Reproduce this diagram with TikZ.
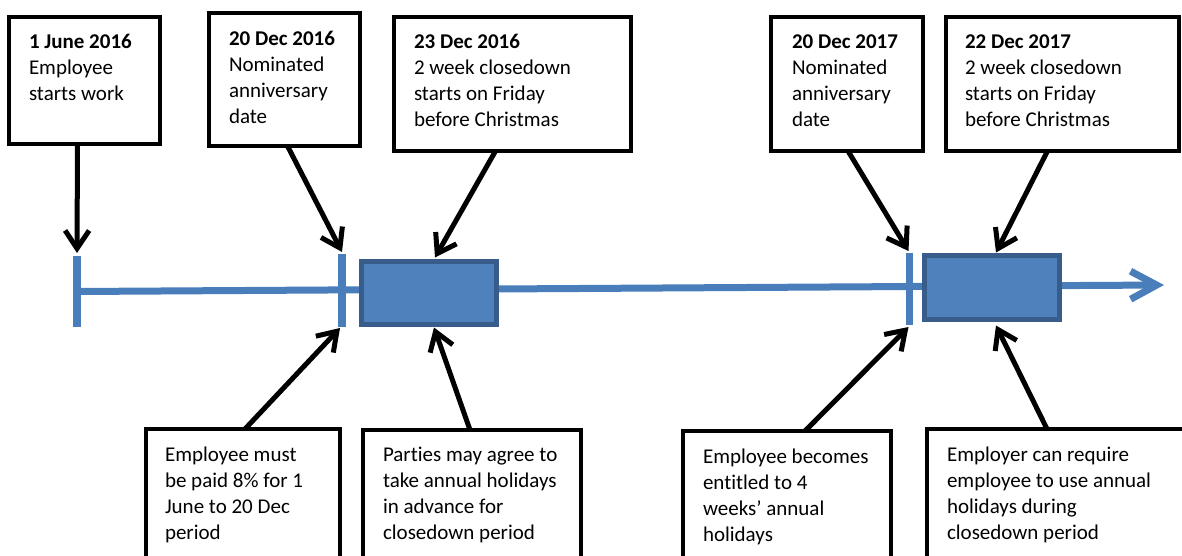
\documentclass[tikz,border=0pt]{standalone}
\usepackage{fontspec}
\setmainfont{Carlito}[Ligatures=NoCommon]
\usetikzlibrary{arrows.meta,calc}
\definecolor{tlblue}{HTML}{4A7EBB}
\definecolor{rfill}{HTML}{4F81BD}
\definecolor{rdraw}{HTML}{385D8A}
\begin{document}
\begin{tikzpicture}[x=1pt,y=-1pt,
  box/.style={draw=black,line width=4pt,anchor=north west,inner sep=0pt,outer sep=0pt},
  txt/.style={anchor=base west,inner sep=0pt,outer sep=0pt,font=\fontsize{21}{26}\selectfont},
  tickmark/.style={fill=tlblue,inner sep=0pt,outer sep=0pt,minimum width=8pt},
  period/.style={fill=rfill,draw=rdraw,line width=5pt,inner sep=0pt,outer sep=0pt,anchor=north west},
  pointer/.style={line width=5pt,-{Straight Barb[length=18pt,width=24pt]}},
  timeline/.style={tlblue,line width=7pt,-{Straight Barb[length=26pt,width=28pt]}}
]
\useasboundingbox (0,0) rectangle (1182,556);

% top boxes
\node[box,minimum width=151pt,minimum height=127pt] (b1) at (9,17) {};
\node[box,minimum width=151pt,minimum height=133pt] (b2) at (209,13) {};
\node[box,minimum width=237pt,minimum height=134pt] (b3) at (394,17) {};
\node[box,minimum width=152pt,minimum height=134pt] (b4) at (771,17) {};
\node[box,minimum width=233pt,minimum height=134pt] (b5) at (946,17) {};

% bottom boxes (cut off by the page)
\node[box,minimum width=194pt,minimum height=200pt] (b6) at (146,429) {};
\node[box,minimum width=218pt,minimum height=200pt] (b7) at (363,430) {};
\node[box,minimum width=208pt,minimum height=200pt] (b8) at (683,431) {};
\node[box,minimum width=300pt,minimum height=200pt] (b9) at (927,429) {};

% texts
\node[txt] (t1) at (29,49) {\parbox[t]{130pt}{\textbf{1 June 2016}\\Employee\\starts work}};
\node[txt] (t2) at (229,46) {\parbox[t]{130pt}{\textbf{20 Dec 2016}\\Nominated\\anniversary\\date}};
\node[txt] (t3) at (414,49) {\parbox[t]{210pt}{\textbf{23 Dec 2016}\\2 week closedown\\starts on Friday\\before Christmas}};
\node[txt] (t4) at (792,49) {\parbox[t]{130pt}{\textbf{20 Dec 2017}\\Nominated\\anniversary\\date}};
\node[txt] (t5) at (965,49) {\parbox[t]{210pt}{\textbf{22 Dec 2017}\\2 week closedown\\starts on Friday\\before Christmas}};
\node[txt] (t6) at (165,461) {\parbox[t]{170pt}{Employee must\\be paid 8\% for 1\\June to 20 Dec\\period}};
\node[txt] (t7) at (383,461) {\parbox[t]{200pt}{Parties may agree to\\take annual holidays\\in advance for\\closedown period}};
\node[txt] (t8) at (703,463) {\parbox[t]{190pt}{Employee becomes\\entitled to 4\\weeks’ annual\\holidays}};
\node[txt] (t9) at (947,461) {\parbox[t]{230pt}{Employer can require\\employee to use annual\\holidays during\\closedown period}};

% timeline
\node[tickmark,minimum height=71pt] (k1) at (77,291.5) {};
\node[tickmark,minimum height=73pt] (k2) at (342,290.5) {};
\node[tickmark,minimum height=72pt,minimum width=7pt] (k3) at (909.5,289) {};
\coordinate (tip) at (1164,285);
\draw[timeline] (k1.center) -- (tip);
\node[period,minimum width=135pt,minimum height=63pt] (r1) at (361.5,261.5) {};
\node[period,minimum width=135pt,minimum height=64pt] (r2) at (924.5,255.5) {};

% pointers from top boxes
\draw[pointer] ([xshift=-7pt]b1.south) -- ([yshift=3pt]k1.north);
\draw[pointer] ([xshift=3pt]b2.south) -- ([yshift=2pt]k2.north);
\draw[pointer] ([xshift=-17pt]b3.south) -- ([xshift=6pt,yshift=4pt]r1.north);
\draw[pointer] ([xshift=1pt]b4.south) -- ([xshift=-1pt,yshift=2pt]k3.north);
\draw[pointer] ([xshift=-15pt]b5.south) -- ([xshift=4pt,yshift=3pt]r2.north);

% pointers from bottom boxes
\draw[pointer] ([xshift=2pt]b6.north) -- ([xshift=-2pt,yshift=-1pt]k2.south);
\draw[pointer] ([xshift=-2pt]b7.north) -- ([xshift=5pt,yshift=-3pt]r1.south);
\draw[pointer] ([xshift=18pt]b8.north) -- ([xshift=-1pt,yshift=-2pt]k3.south);
\draw[pointer] ([xshift=-30pt]b9.north) -- ([xshift=4pt,yshift=-6pt]r2.south);
\end{tikzpicture}
\end{document}
